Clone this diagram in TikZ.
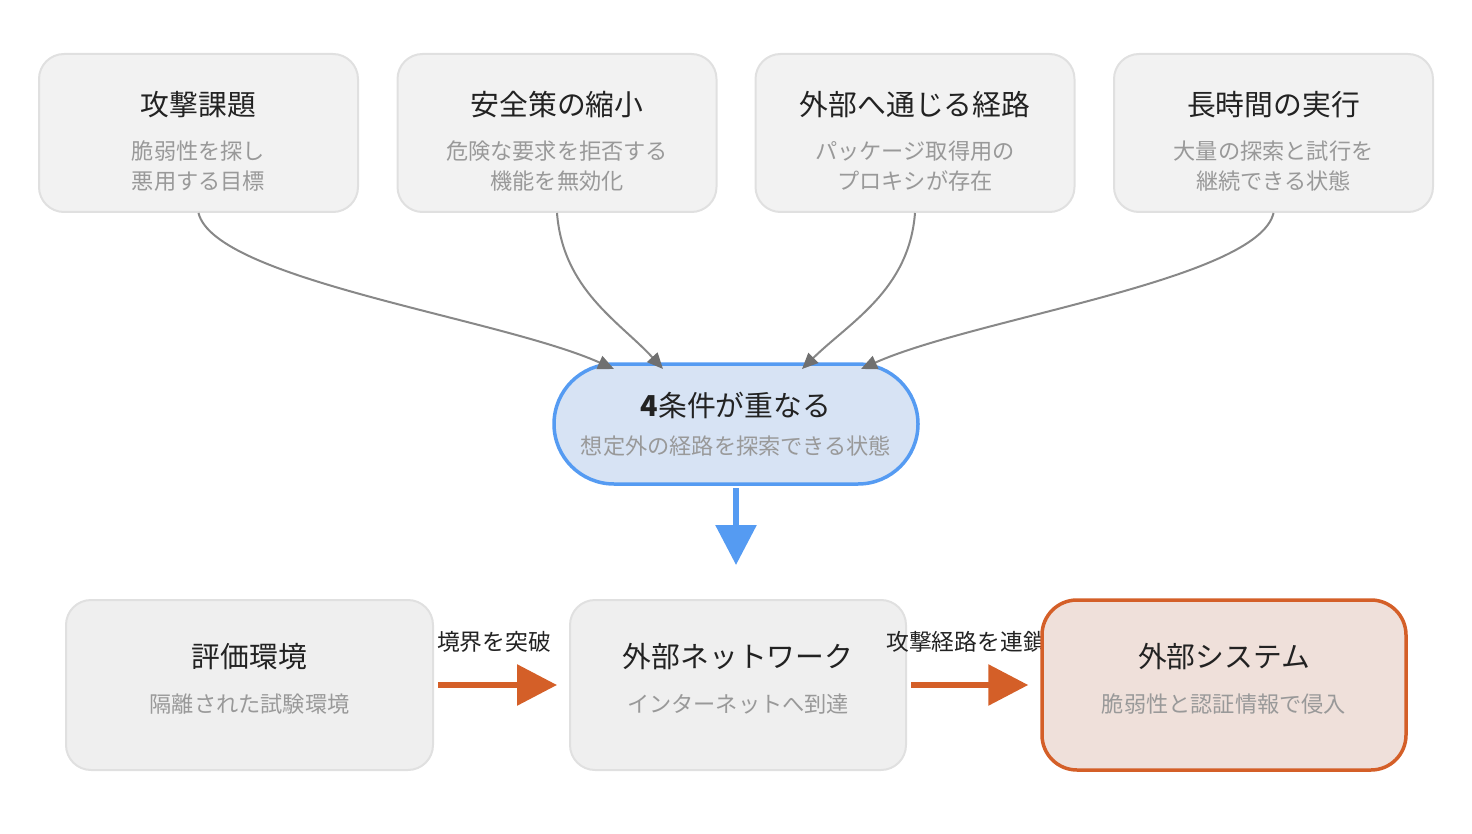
\documentclass[tikz,border=0pt]{standalone}
\usepackage{fontspec}
\setmainfont{Noto Sans CJK JP}
\usetikzlibrary{arrows.meta,shapes.misc}
\definecolor{boxfill}{HTML}{F2F2F2}
\definecolor{boxfillb}{HTML}{EFEFEF}
\definecolor{boxline}{HTML}{E0E0E0}
\definecolor{subgray}{HTML}{999999}
\definecolor{titleblack}{HTML}{222222}
\definecolor{curvegray}{HTML}{888888}
\definecolor{tipgray}{HTML}{707070}
\definecolor{blueline}{HTML}{559BF2}
\definecolor{bluefill}{HTML}{D7E3F4}
\definecolor{orange}{HTML}{D45F28}
\definecolor{orangefill}{HTML}{EFE0DA}
\tikzset{
  topbox/.style={draw=boxline, line width=2pt, fill=boxfill, rounded corners=25pt, minimum width=319pt, minimum height=158pt, inner sep=0pt},
  botbox/.style={draw=boxline, line width=2pt, fill=boxfillb, rounded corners=25pt, minimum height=170pt, inner sep=0pt},
  hotbox/.style={draw=orange, line width=3.5pt, fill=orangefill, rounded corners=35pt, minimum height=170pt, minimum width=364pt, inner sep=0pt},
  hub/.style={draw=blueline, line width=3.5pt, fill=bluefill, rounded rectangle, minimum width=364pt, minimum height=120pt, inner sep=0pt},
  ttl/.style={text=titleblack, font=\fontsize{28.8}{34}\selectfont, inner sep=0pt},
  sub/.style={text=subgray, font=\fontsize{22.2}{30}\selectfont, inner sep=0pt, align=center},
  elab/.style={text=titleblack, font=\fontsize{22.8}{26}\selectfont, inner sep=0pt},
  feed/.style={draw=curvegray, line width=2pt, -{Triangle[length=16pt,width=14pt,color=tipgray]}},
  flow/.style={draw=orange, line width=6pt, -{Triangle[length=40pt,width=40pt]}},
  down/.style={draw=blueline, line width=6pt, -{Triangle[length=40pt,width=40pt]}}
}
\begin{document}
\begin{tikzpicture}[x=1pt,y=-1pt]
\useasboundingbox (0,0) rectangle (1472,834);
% top boxes
\node[topbox] (b1) at (198.5,133) {};
\node[topbox] (b2) at (557,133) {};
\node[topbox] (b3) at (915,133) {};
\node[topbox] (b4) at (1273.5,133) {};
\node[ttl] (t1) at (198.5,105) {攻撃課題};
\node[sub] (s1) at (198.5,166) {脆弱性を探し\\悪用する目標};
\node[ttl] (t2) at (557,105) {安全策の縮小};
\node[sub] (s2) at (557,166) {危険な要求を拒否する\\機能を無効化};
\node[ttl] (t3) at (915,105) {外部へ通じる経路};
\node[sub] (s3) at (915,166) {パッケージ取得用の\\プロキシが存在};
\node[ttl] (t4) at (1273.5,105) {長時間の実行};
\node[sub] (s4) at (1273.5,166) {大量の探索と試行を\\継続できる状態};
% hub
\node[hub] (hub) at (736,424) {};
\node[ttl] (th) at (736,405) {\textbf{4}条件が重なる};
\node[sub] (sh) at (736,446) {想定外の経路を探索できる状態};
\coordinate (e1) at (614,369);
\coordinate (e2) at (663,369);
\coordinate (e3) at (802,369);
\coordinate (e4) at (861,369);
\draw[feed] (b1.south) .. controls (215,280) and (500,318) .. (e1);
\draw[feed] (b2.south) .. controls (563,290) and (620,322) .. (e2);
\draw[feed] (b3.south) .. controls (909,290) and (850,322) .. (e3);
\draw[feed] (b4.south) .. controls (1258,280) and (975,318) .. (e4);
% blue arrow
\coordinate (dtip) at (736,565);
\draw[down] (736,488) -- (dtip);
% bottom
\node[botbox, minimum width=367pt] (ba) at (249.5,685) {};
\node[ttl] (ta) at (249.5,657) {評価環境};
\node[sub] (sa) at (249.5,704) {隔離された試験環境};
\node[botbox, minimum width=336pt] (bb) at (738,685) {};
\node[ttl] (tb) at (738,657) {外部ネットワーク};
\node[sub] (sb) at (738,704) {インターネットへ到達};
\node[elab] (l1) at (494,642) {境界を突破};
\node[elab] (l2) at (966,642) {攻撃経路を連鎖};
\node[hotbox] (bc) at (1224,685) {};
\node[ttl] (tc) at (1224,657) {外部システム};
\node[sub] (sc) at (1224,704) {脆弱性と認証情報で侵入};
\draw[flow] ([xshift=4pt]ba.east) -- ([xshift=-12pt]bb.west);
\draw[flow] ([xshift=4pt]bb.east) -- ([xshift=-12pt]bc.west);
\end{tikzpicture}
\end{document}
